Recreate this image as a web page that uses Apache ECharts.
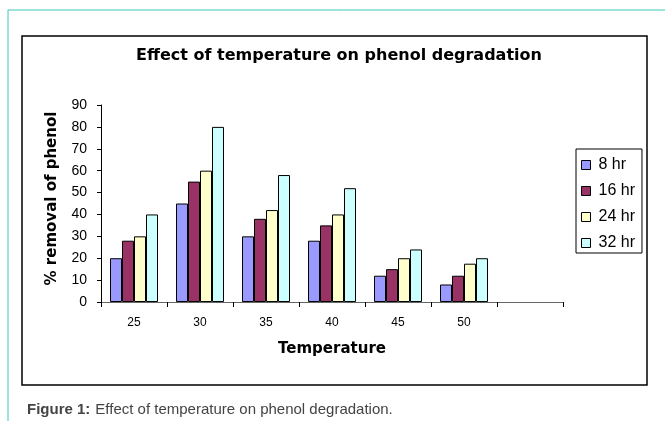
<!DOCTYPE html>
<html>
<head>
<meta charset="utf-8">
<script src="https://cdn.jsdelivr.net/npm/echarts@6/dist/echarts.min.js"></script>
<style>
  html, body { margin: 0; padding: 0; background: #fff; }
  #chart { width: 665px; height: 421px; }
</style>
</head>
<body>
<div id="chart"></div>
<script>
// data
const temperatures = ["25", "30", "35", "40", "45", "50", ""];
const hr8 = [20, 45, 30, 28, 12, 8];
const hr16 = [28, 55, 38, 35, 15, 12];
const hr24 = [30, 60, 42, 40, 20, 17.5];
const hr32 = [40, 80, 58, 52, 24, 20];
const seriesNames = ["8 hr", "16 hr", "24 hr", "32 hr"];
const seriesColors = ["#9999ff", "#993366", "#ffffcc", "#ccffff"];

const font = "Arial, 'Liberation Sans', sans-serif";
const boldFont = "'DejaVu Sans', sans-serif";
const myChart = echarts.init(document.getElementById("chart"));

const makeBar = (i, data) => ({
  name: seriesNames[i],
  type: "bar",
  barWidth: 12,
  barGap: "0%",
  itemStyle: { color: seriesColors[i], borderColor: "#000", borderWidth: 1 },
  data: data,
});

const option = {
  animation: false,
  textStyle: { fontFamily: font },
  graphic: [
    // teal frame of the figure
    { type: "line", shape: { x1: 8, y1: 10, x2: 665, y2: 10 }, style: { stroke: "#3cc8b4", lineWidth: 1 } },
    { type: "line", shape: { x1: 8, y1: 10, x2: 8, y2: 421 }, style: { stroke: "#3cc8b4", lineWidth: 1 } },
    // chart area box
    { type: "rect", shape: { x: 22, y: 36, width: 625, height: 349 }, style: { fill: "none", stroke: "#000", lineWidth: 1.5 }, z: 0 },
  ],
  title: [
    {
      text: "Effect of temperature on phenol degradation",
      left: 334,
      top: 43,
      textAlign: "center",
      textStyle: { fontSize: 16, fontWeight: "bold", color: "#000", fontFamily: boldFont },
    },
    {
      text: "{b|Figure 1:} {n|Effect of temperature on phenol degradation.}",
      left: 22,
      top: 396,
      textStyle: {
        fontWeight: "normal",
        rich: {
          b: { fontSize: 15, fontWeight: "bold", color: "#444", fontFamily: font },
          n: { fontSize: 15, fontWeight: "normal", color: "#444", fontFamily: font },
        },
      },
    },
  ],
  legend: {
    orient: "vertical",
    left: 576,
    top: 149,
    padding: [8, 7, 2, 5],
    itemGap: 10,
    itemWidth: 9,
    itemHeight: 9,
    borderColor: "#000",
    borderWidth: 1,
    icon: "rect",
    itemStyle: { borderColor: "#000", borderWidth: 1 },
    textStyle: { fontSize: 16, lineHeight: 16, color: "#000", fontFamily: font, padding: [0, 0, 0, 3] },
    data: seriesNames,
  },
  grid: { left: 101, top: 105, right: 102, bottom: 119 },
  xAxis: {
    type: "category",
    data: temperatures,
    name: "Temperature",
    nameLocation: "middle",
    nameGap: 40,
    nameTextStyle: { fontSize: 15, fontWeight: "bold", color: "#000", fontFamily: boldFont },
    axisLine: { lineStyle: { color: "#666" } },
    axisTick: { show: true, interval: 0, length: 5, lineStyle: { color: "#000" } },
    axisLabel: { fontSize: 12, color: "#000", margin: 15, fontFamily: font },
  },
  yAxis: {
    type: "value",
    min: 0,
    max: 90,
    interval: 10,
    name: "% removal of phenol",
    nameLocation: "middle",
    nameGap: 41,
    nameTextStyle: { fontSize: 15, fontWeight: "bold", color: "#000", fontFamily: boldFont, padding: [0, 0, 0, 10] },
    axisLine: { show: true, lineStyle: { color: "#000" } },
    axisTick: { show: true, length: 4, lineStyle: { color: "#000" } },
    axisLabel: { fontSize: 14, color: "#000", margin: 14, fontFamily: font },
    splitLine: { show: false },
  },
  series: [makeBar(0, hr8), makeBar(1, hr16), makeBar(2, hr24), makeBar(3, hr32)],
};

myChart.setOption(option);
</script>
</body>
</html>
